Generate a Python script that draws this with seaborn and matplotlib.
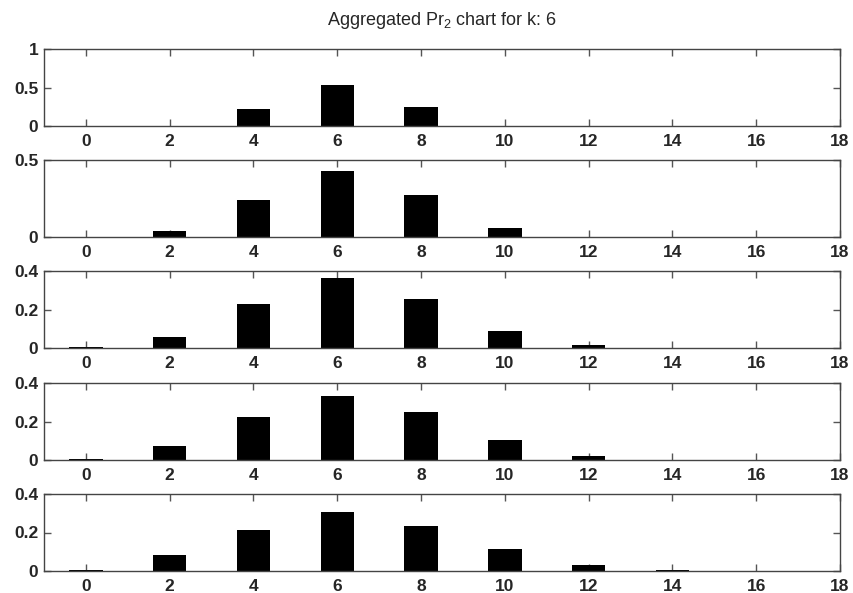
import matplotlib
matplotlib.use("Agg")
import matplotlib.pyplot as plt
import seaborn as sns
import pandas as pd

# Data
x_vals = [0, 2, 4, 6, 8, 10, 12, 14, 16, 18]
series = [
    [0.0, 0.0, 0.225, 0.53, 0.25, 0.0, 0.0, 0.0, 0.0, 0.0],
    [0.0, 0.041, 0.238, 0.426, 0.27, 0.06, 0.0, 0.0, 0.0, 0.0],
    [0.006, 0.058, 0.229, 0.364, 0.255, 0.088, 0.017, 0.0, 0.0, 0.0],
    [0.006, 0.075, 0.221, 0.330, 0.247, 0.106, 0.023, 0.0, 0.0, 0.0],
    [0.005, 0.083, 0.214, 0.308, 0.235, 0.115, 0.031, 0.005, 0.0, 0.0],
]
y_limits = [1.0, 0.5, 0.4, 0.4, 0.4]
y_ticks = [[0, 0.5, 1], [0, 0.5], [0, 0.2, 0.4], [0, 0.2, 0.4], [0, 0.2, 0.4]]
y_ticklabels = [["0", "0.5", "1"], ["0", "0.5"], ["0", "0.2", "0.4"],
                ["0", "0.2", "0.4"], ["0", "0.2", "0.4"]]
title = "Aggregated Pr$_2$ chart for k: 6"

sns.set_style("white")
plt.rcParams["font.family"] = ["Liberation Sans", "DejaVu Sans"]
plt.rcParams["mathtext.fontset"] = "custom"
plt.rcParams["mathtext.rm"] = "Liberation Sans"
plt.rcParams["mathtext.default"] = "regular"

W, H = 854, 593
fig = plt.figure(figsize=(W / 100, H / 100), dpi=100)

left_px, right_px = 44, 840
tops = [49, 160, 271, 383, 494]
h_px = 77

for i, vals in enumerate(series):
    bottom = 1 - (tops[i] + h_px) / H
    ax = fig.add_axes([left_px / W, bottom, (right_px - left_px) / W, h_px / H])
    df = pd.DataFrame({"x": x_vals, "y": vals})
    sns.barplot(data=df, x="x", y="y", native_scale=True, width=0.4,
                color="black", saturation=1, errorbar=None, linewidth=0,
                ax=ax)
    ax.set_xlim(-1, 18)
    ax.set_ylim(0, y_limits[i])
    ax.set_xticks(x_vals)
    ax.set_xticklabels([str(v) for v in x_vals])
    ax.set_yticks(y_ticks[i])
    ax.set_yticklabels(y_ticklabels[i])
    ax.set_xlabel("")
    ax.set_ylabel("")
    ax.tick_params(axis="both", direction="in", length=5, width=1,
                   color="#555555", labelsize=12.5, top=True, right=True,
                   bottom=True, left=True)
    ax.tick_params(axis="x", pad=6)
    ax.tick_params(axis="y", pad=4)
    for lab in ax.get_xticklabels() + ax.get_yticklabels():
        lab.set_fontweight("bold")
    for sp in ax.spines.values():
        sp.set_visible(True)
        sp.set_color("#444444")
        sp.set_linewidth(1.0)
    if i == 0:
        ax.set_title(title, fontsize=13, pad=17)

fig.savefig("out.png", dpi=100)
